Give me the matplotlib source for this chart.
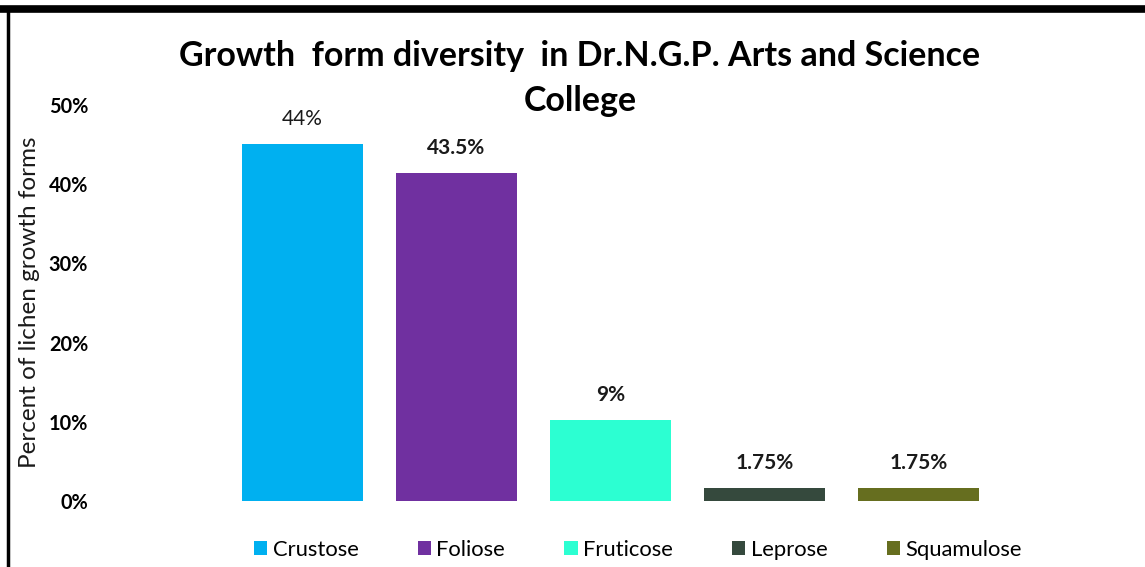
import matplotlib.pyplot as plt
from matplotlib.patches import Patch
from matplotlib.lines import Line2D

# data
categories = ['Crustose', 'Foliose', 'Fruticose', 'Leprose', 'Squamulose']
bar_heights = [45.1, 41.4, 10.2, 1.65, 1.65]
bar_labels = ['44%', '43.5%', '9%', '1.75%', '1.75%']
label_bold = [False, True, True, True, True]
colors = ['#00B0F0', '#7030A0', '#2CFFD2', '#35493D', '#666E1F']
yticks = [0, 10, 20, 30, 40, 50]

plt.rcParams['font.family'] = ['Lato', 'DejaVu Sans']

fig = plt.figure(figsize=(11.45, 5.67), dpi=100)
W, H = 1145, 567
ax = fig.add_axes([225.5 / W, (H - 501) / H, 770 / W, 396 / H])

x = range(len(categories))
ax.bar(x, bar_heights, width=0.786, color=colors)

for xi, h, lab, b in zip(x, bar_heights, bar_labels, label_bold):
    ax.annotate(lab, (xi, h), xytext=(0, 18), textcoords='offset points',
                ha='center', va='center', fontsize=15,
                fontweight='bold' if b else 'normal', color='#1a1a1a')

ax.set_xlim(-0.5, 4.5)
ax.set_ylim(0, 50)
ax.set_xticks([])
ax.set_yticks(yticks)
ax.set_yticklabels([f'{t}%' for t in yticks], fontsize=14.3, fontweight='bold')
ax.tick_params(axis='y', length=0, pad=99)
for s in ax.spines.values():
    s.set_visible(False)

fig.text(30 / W, 1 - 302 / H, 'Percent of lichen growth forms', rotation=90,
         ha='center', va='center', fontsize=17.5, color='#1a1a1a')

fig.text(580 / W, 1 - 56 / H, 'Growth  form diversity  in Dr.N.G.P. Arts and Science',
         ha='center', va='center', fontsize=24.5, fontweight='bold')
fig.text(580 / W, 1 - 101 / H, 'College',
         ha='center', va='center', fontsize=24.5, fontweight='bold')

handles = [Patch(facecolor=c) for c in colors]
fig.legend(handles, categories, loc='center', bbox_to_anchor=(638 / W, 1 - 550 / H),
           ncol=5, frameon=False, fontsize=15.8, handlelength=0.6, handleheight=0.6,
           handletextpad=0.25, columnspacing=2.7, borderpad=0)

# frame lines at the top and left edges
fig.add_artist(Line2D([0, 1], [1 - 8.5 / H, 1 - 8.5 / H], color='black', lw=5.5))
fig.add_artist(Line2D([7.5 / W, 7.5 / W], [0, 1 - 8 / H], color='black', lw=2.5))

fig.savefig('out.png', dpi=100)
